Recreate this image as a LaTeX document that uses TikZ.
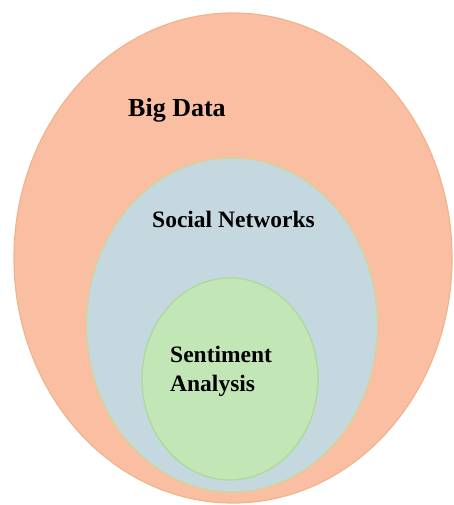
\documentclass[tikz,border=0pt]{standalone}
\usepackage{fontspec}
\setmainfont{Liberation Serif}
\definecolor{salmonpink}{RGB}{250,190,162}
\definecolor{salmonedge}{RGB}{240,180,140}
\definecolor{powderblue}{RGB}{197,216,224}
\definecolor{blueedge}{RGB}{205,215,150}
\definecolor{mintgreen}{RGB}{195,230,182}
\definecolor{greenedge}{RGB}{170,218,150}
\usetikzlibrary{shapes.geometric}

\begin{document}
\begin{tikzpicture}[x=1pt,y=-1pt]

    \useasboundingbox (0,0) rectangle (454,505);

                % nested sets
                \node[fill=salmonpink, draw=salmonedge, line width=1.2pt, ellipse, minimum width=438pt, minimum height=490pt, inner sep=0pt] (bigdata) at (233,258) {};
                \node[fill=powderblue, draw=blueedge, line width=1.2pt, ellipse, minimum width=291pt, minimum height=334pt, inner sep=0pt] (social) at (232,325) {};
                \node[fill=mintgreen, draw=greenedge, line width=1.2pt, ellipse, minimum width=176pt, minimum height=202pt, inner sep=0pt] (sentiment) at (230,379) {};

                % labels
                \node[anchor=base west, inner sep=0pt, font=\fontsize{26}{30}\selectfont\bfseries] (bdlabel) at (128,117) {Big Data};
                \node[anchor=base west, inner sep=0pt, font=\fontsize{23.5}{28}\selectfont\bfseries] (snlabel) at (152,227) {Social Networks};
                \node[anchor=base west, inner sep=0pt, font=\fontsize{23.5}{28}\selectfont\bfseries, align=left] (salabel) at (170,391) {Sentiment\\[1pt]Analysis};

\end{tikzpicture}
\end{document}
